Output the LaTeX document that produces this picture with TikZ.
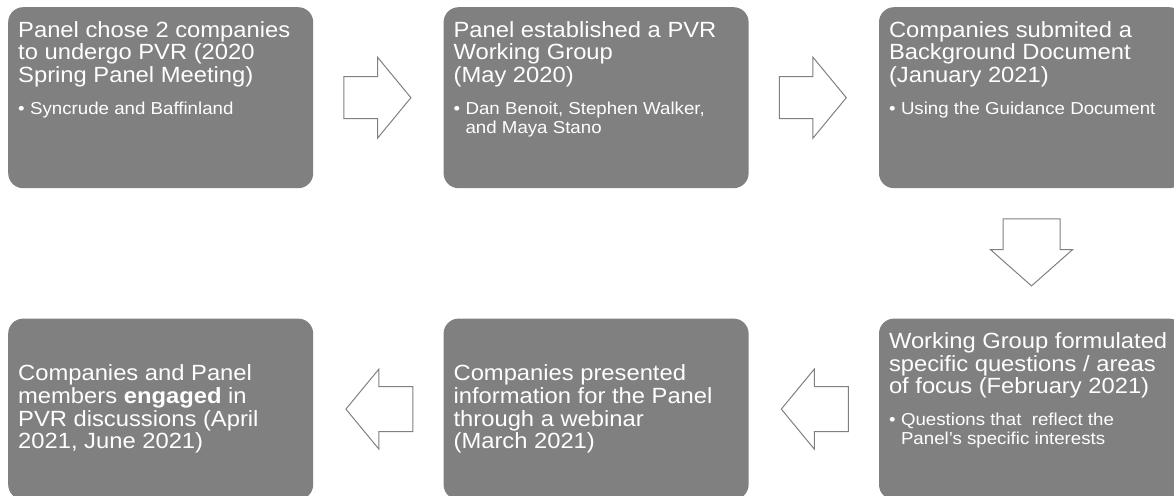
\documentclass[tikz,border=0pt]{standalone}
\usepackage{fontspec}
\setmainfont{Liberation Sans}[FakeStretch=1.08]
\usepackage{xcolor}
\usetikzlibrary{shapes.arrows,positioning,calc}

\definecolor{stagegray}{RGB}{128,128,128}

\newcommand{\titlefont}{\fontsize{22}{22.7}\selectfont}
\newcommand{\subfont}{\fontsize{17.3}{18.8}\selectfont}
% box text: title at the top, one bullet below
\newcommand{\stagetop}[2]{\parbox[c][181pt][t]{285pt}{\raggedright
  \vspace*{14pt}{\titlefont #1\par}\vspace{13.2pt}%
  {\subfont\hangindent=12pt\hangafter=1\noindent\makebox[12pt][l]{•}#2\par}}}
% box text: title only, centred vertically
\newcommand{\stagemid}[1]{\parbox[c][181pt][c]{285pt}{\raggedright\titlefont #1\par}}

\begin{document}
\begin{tikzpicture}[
  x=1pt, y=1pt,
  node distance = 130pt,
  stage/.style = {fill=stagegray, rounded corners=15pt, text=white,
                  inner sep=0pt, minimum width=305pt, minimum height=181pt},
  flow/.style  = {single arrow, draw=stagegray, fill=white, line width=1pt,
                  single arrow head extend=19.5pt, single arrow tip angle=101,
                  inner xsep=0pt, inner ysep=20.5pt, minimum height=67pt,
                  anchor=tail},
]
\useasboundingbox (0,0) rectangle (1174,-495);

%% ---------- top row ----------
\node[stage, anchor=north west] (S1) at (8,-7)
  {\stagetop{Panel chose 2 companies\\to undergo PVR (2020\\Spring Panel Meeting)}
            {Syncrude and Baffinland}};
\node[stage, right=of S1] (S2)
  {\stagetop{Panel established a PVR\\Working Group\\(May 2020)}
            {Dan Benoit, Stephen Walker,\newline and Maya Stano}};
\node[stage, right=of S2] (S3)
  {\stagetop{Companies submited a\\Background Document\\(January 2021)}
            {Using the Guidance Document}};

%% ---------- bottom row ----------
\node[stage, below=of S3] (S4)
  {\stagetop{Working Group formulated\\specific questions / areas\\of focus (February 2021)}
            {Questions that\ \ reflect the\newline Panel’s specific interests}};
\node[stage, left=of S4] (S5)
  {\stagemid{Companies presented\\information for the Panel\\through a webinar\\(March 2021)}};
\node[stage, left=of S5] (S6)
  {\stagemid{Companies and Panel\\members \textbf{engaged} in\\PVR discussions (April\\2021, June 2021)}};

%% block arrows (placed by their tails)
\node[flow] (F1) at ($(S1.east)!0.5!(S2.west)+(-35,0)$) {};
\node[flow] (F2) at ($(S2.east)!0.5!(S3.west)+(-35,0)$) {};
\node[flow, rotate=-90, inner ysep=28pt, single arrow head extend=12.5pt,
      single arrow tip angle=97] (F3) at ($(S3.south)!0.5!(S4.north)+(0,35)$) {};
\node[flow, rotate=180, inner ysep=22pt, single arrow head extend=17.5pt]
  (F4) at ($(S4.west)!0.5!(S5.east)+(35,0)$) {};
\node[flow, rotate=180, inner ysep=22pt, single arrow head extend=17.5pt]
  (F5) at ($(S5.west)!0.5!(S6.east)+(35,0)$) {};

\end{tikzpicture}
\end{document}
